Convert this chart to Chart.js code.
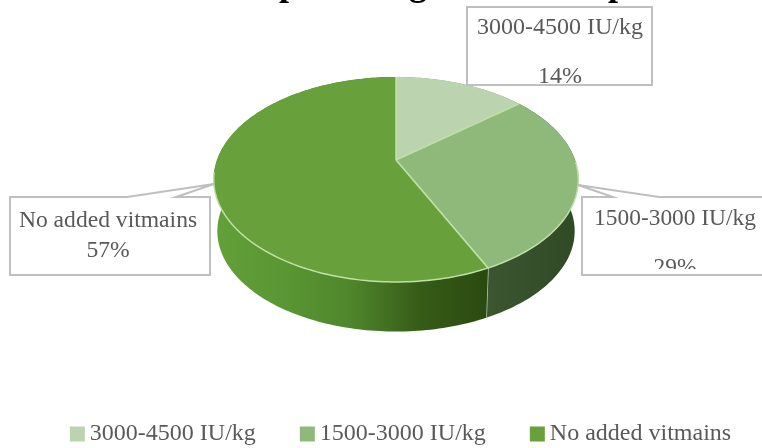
<!DOCTYPE html>
<html>
<head>
<meta charset="utf-8">
<title>Vitamin supplementation</title>
<script src="https://cdn.jsdelivr.net/npm/chart.js@4/dist/chart.umd.js"></script>
<style>
    html, body { margin: 0; padding: 0; background: #fff; }
    #wrap { position: relative; width: 762px; height: 448px; overflow: hidden; }
    canvas { display: block; }
</style>
</head>
<body>
<div id="wrap"><canvas id="chart" width="762" height="448"></canvas></div>
<script>
const categories = ['3000-4500 IU/kg', '1500-3000 IU/kg', 'No added vitmains'];
const shares = [14, 29, 57];
const sliceColors = ['#bcd3b0', '#8eb97a', '#68a03c'];
// side wall shading per slice, left to right
const wallColors = [
    ['#7f9c72', '#7f9c72'],
    ['#3a5530', '#3d5733', '#2f4a25'],
    ['#62a039', '#5a9633', '#4f862c', '#375c18', '#2b4a10']
];
const titleGlyphs = [['p', 289], ['g', 418], ['p', 618]];

// pie projected as a tilted disc, near edge larger than far edge
const disc = { cx: 396, cy: 160, a: 179, b: 98.8, persp: 0.19, depth: 52, baseScale: 0.98 };

// callout boxes: frame, optional leader, text centre and baselines
const callouts = [
    { index: 0, box: [467, 7, 185, 78], textX: 560, lines: [34, 83], clipBottom: 85, font: 24 },
    { index: 1, box: [582, 197, 200, 78], tip: [578, 185], base: [613, 659], textX: 675, lines: [225, 274], clipBottom: 269, font: 23.4 },
    { index: 2, box: [10, 197, 200, 78], tip: [214, 184], base: [127, 176], textX: 108, lines: [227, 257], clipBottom: 275, font: 23.6 }
];

const project = (angle, scale, dy) => {
    const u = Math.cos(angle), v = Math.sin(angle);
    const w = 1 - disc.persp * v;
    return [disc.cx + scale * disc.a * u / w, disc.cy + dy + scale * disc.b * v / w];
};

const traceRim = (ctx, start, end, scale, dy, first) => {
    const steps = Math.max(2, Math.ceil(Math.abs(end - start) / 0.02));
    for (let i = 0; i <= steps; i++) {
        const p = project(start + (end - start) * i / steps, scale, dy);
        if (i === 0 && first) ctx.moveTo(p[0], p[1]);
        else ctx.lineTo(p[0], p[1]);
    }
};

class TiltedArc extends Chart.ArcElement {
    static id = 'tiltedArc';

    draw(ctx) {
        const { startAngle, endAngle } = this;
        const o = this.options;
        ctx.save();
        ctx.beginPath();
        ctx.moveTo(disc.cx, disc.cy);
        traceRim(ctx, startAngle, endAngle, 1, 0, false);
        ctx.closePath();
        ctx.fillStyle = o.backgroundColor;
        ctx.fill();

        // light seams between slices
        ctx.strokeStyle = o.borderColor;
        ctx.lineWidth = o.borderWidth;
        [startAngle, endAngle].forEach((angle) => {
            const p = project(angle, 1, 0);
            ctx.beginPath();
            ctx.moveTo(disc.cx, disc.cy);
            ctx.lineTo(p[0], p[1]);
            ctx.stroke();
        });

        // rim highlight only on the front edge
        const from = Math.max(startAngle, 0.02);
        const to = Math.min(endAngle, Math.PI - 0.12);
        if (to > from) {
            ctx.beginPath();
            traceRim(ctx, from, to, 1, 0, true);
            ctx.stroke();
        }
        ctx.restore();
    }
}

class TiltedPie extends Chart.PieController {
    static id = 'tiltedPie';
    static defaults = { dataElementType: 'tiltedArc' };
}

Chart.register(TiltedArc, TiltedPie);

const discWalls = {
    id: 'discWalls',
    beforeDatasetsDraw(chart) {
        const ctx = chart.ctx;
        chart.getDatasetMeta(0).data.forEach((arc, i) => {
            const g = ctx.createLinearGradient(disc.cx - disc.a, 0, disc.cx + disc.a, 0);
            const left = i === 2 ? 0 : (i === 1 ? 0.45 : 0.3);
            const right = i === 2 ? 0.75 : 1;
            wallColors[i].forEach((c, j) => {
                g.addColorStop(left + (right - left) * j / (wallColors[i].length - 1), c);
            });
            ctx.save();
            ctx.beginPath();
            traceRim(ctx, arc.startAngle, arc.endAngle, 1, 0, true);
            traceRim(ctx, arc.endAngle, arc.startAngle, disc.baseScale, disc.depth, false);
            ctx.closePath();
            ctx.fillStyle = g;
            ctx.fill();

            // seam down the wall where two slices meet
            if (i === 1) {
                const top = project(arc.endAngle, 1, 0);
                const low = project(arc.endAngle, disc.baseScale, disc.depth);
                ctx.strokeStyle = '#b9c9a9';
                ctx.lineWidth = 1.5;
                ctx.beginPath();
                ctx.moveTo(top[0], top[1]);
                ctx.lineTo(low[0], low[1]);
                ctx.stroke();
            }
            ctx.restore();
        });
    }
};

const calloutLabels = {
    id: 'calloutLabels',
    afterDatasetsDraw(chart) {
        const ctx = chart.ctx;
        callouts.forEach((c) => {
            const [x, y, w, h] = c.box;
            ctx.save();
            ctx.beginPath();
            ctx.moveTo(x, y);
            if (c.tip) {
                ctx.lineTo(c.base[0], y);
                ctx.lineTo(c.tip[0], c.tip[1]);
                ctx.lineTo(c.base[1], y);
            }
            ctx.lineTo(x + w, y);
            ctx.lineTo(x + w, y + h);
            ctx.lineTo(x, y + h);
            ctx.closePath();
            ctx.fillStyle = '#fff';
            ctx.fill();
            ctx.strokeStyle = '#bfbfbf';
            ctx.lineWidth = 2;
            ctx.stroke();

            ctx.beginPath();
            ctx.rect(x, y, w, c.clipBottom - y);
            ctx.clip();
            ctx.fillStyle = '#595959';
            ctx.font = c.font + 'px "Liberation Serif"';
            ctx.textAlign = 'center';
            ctx.textBaseline = 'alphabetic';
            ctx.fillText(categories[c.index], c.textX, c.lines[0]);
            ctx.fillText(shares[c.index] + '%', c.textX, c.lines[1]);
            ctx.restore();
        });

        // heading runs off the top edge, only descenders remain in view
        ctx.save();
        ctx.fillStyle = '#000';
        ctx.font = 'bold 36px "Liberation Serif"';
        ctx.textAlign = 'center';
        ctx.textBaseline = 'alphabetic';
        titleGlyphs.forEach(([glyph, x]) => ctx.fillText(glyph, x, -5));
        ctx.restore();
    }
};

new Chart(document.getElementById('chart'), {
    type: 'tiltedPie',
    data: {
        labels: categories,
        datasets: [{
            data: shares,
            backgroundColor: sliceColors,
            borderColor: '#bfe0a8',
            borderWidth: 1.5,
            clip: false
        }]
    },
    plugins: [discWalls, calloutLabels],
    options: {
        responsive: false,
        animation: false,
        layout: { padding: { left: 23, right: -23, bottom: -8 } },
        plugins: {
            tooltip: { enabled: false },
            legend: {
                position: 'bottom',
                labels: {
                    usePointStyle: true,
                    pointStyle: 'rect',
                    boxWidth: 1,
                    boxHeight: 15,
                    padding: 51,
                    color: '#595959',
                    font: { family: '"Liberation Serif"', size: 24 },
                    generateLabels(chart) {
                        return Chart.PieController.overrides.plugins.legend.labels.generateLabels(chart)
                            .map((item) => ({ ...item, lineWidth: 0, strokeStyle: item.fillStyle }));
                    }
                }
            }
        }
    }
});
</script>
</body>
</html>
